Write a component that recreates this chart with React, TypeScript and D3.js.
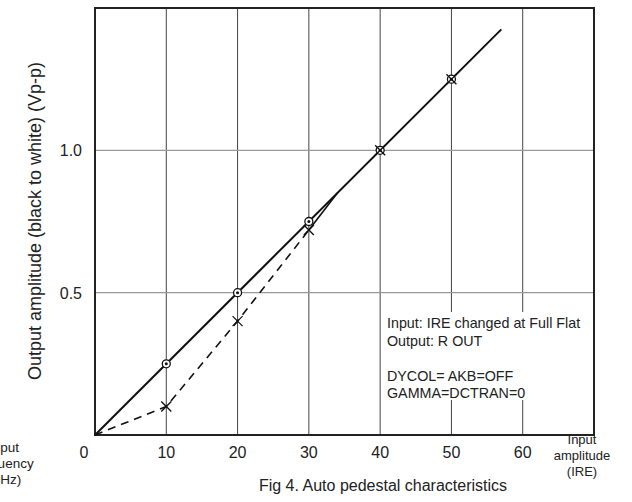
import React from "react";
import * as d3 from "d3";

const xTicks = [0, 10, 20, 30, 40, 50, 60];
const yTicks = [0.5, 1.0];
const yTickLabels = ["0.5", "1.0"];

const idealX = [0, 57];
const idealY = [0, 1.425];

const circleX = [10, 20, 30, 40, 50];
const circleY = [0.25, 0.5, 0.75, 1.0, 1.25];

const measuredX = [0, 10, 20, 30];
const measuredY = [0, 0.1, 0.4, 0.72];
const joinX = [30, 34];
const joinY = [0.72, 0.85];

const crossX = [10, 20, 30, 40, 50];
const crossY = [0.1, 0.4, 0.72, 1.0, 1.25];

const noteLines = [
  "Input: IRE changed at Full Flat",
  "Output: R OUT",
  "",
  "DYCOL= AKB=OFF",
  "GAMMA=DCTRAN=0",
];

export default function App() {
  const W = 632, H = 502;
  const x = d3.scaleLinear().domain([0, 70]).range([95, 594]);
  const y = d3.scaleLinear().domain([0, 1.5]).range([435, 8]);
  const line = d3.line<[number, number]>().x(d => x(d[0])).y(d => y(d[1]));
  const ideal = line(idealX.map((v, i) => [v, idealY[i]]) as [number, number][]);
  const meas = line(measuredX.map((v, i) => [v, measuredY[i]]) as [number, number][]);
  const join = line(joinX.map((v, i) => [v, joinY[i]]) as [number, number][]);
  const font = "Liberation Sans, Arial, Helvetica, sans-serif";
  const noteY = [323, 341, 358, 376, 393];
  return (
    <svg width={W} height={H} style={{ position: "absolute", left: 0, top: 0 }} fontFamily={font}>
      <rect x={0} y={0} width={W} height={H} fill="#fff" />
      {/* vertical grid */}
      {xTicks.filter(t => t > 0).map(t => (
        <line key={"vx" + t} x1={x(t)} x2={x(t)} y1={y(0)} y2={y(1.5)} stroke="#444" strokeWidth={1} />
      ))}
      {yTicks.map(t => (
        <line key={"hy" + t} x1={x(0)} x2={x(70)} y1={y(t)} y2={y(t)} stroke="#999" strokeWidth={1.2} />
      ))}
      {/* note box background */}
      <rect x={385} y={312} width={207} height={88} fill="#fff" />
      {noteLines.map((s, i) => (
        <text key={"n" + i} x={387} y={noteY[i] + 5} fontSize={14.3} fill="#222">{s}</text>
      ))}
      {/* frame */}
      <rect x={x(0)} y={y(1.5)} width={x(70) - x(0)} height={y(0) - y(1.5)} fill="none" stroke="#222" strokeWidth={2} />
      {/* lines */}
      <path d={ideal || ""} fill="none" stroke="#111" strokeWidth={2} />
      <path d={meas || ""} fill="none" stroke="#111" strokeWidth={1.6} strokeDasharray="8,6" />
      <path d={join || ""} fill="none" stroke="#111" strokeWidth={1.6} />
      {/* circle markers */}
      {circleX.map((v, i) => (
        <g key={"c" + i}>
          <circle cx={x(v)} cy={y(circleY[i])} r={4} fill="#fff" stroke="#111" strokeWidth={1.3} />
          <circle cx={x(v)} cy={y(circleY[i])} r={1.5} fill="#111" />
        </g>
      ))}
      {/* cross markers */}
      {crossX.map((v, i) => {
        const cx = x(v), cy = y(crossY[i]), s = 5;
        return (
          <g key={"x" + i} stroke="#111" strokeWidth={1.3}>
            <line x1={cx - s} y1={cy - s} x2={cx + s} y2={cy + s} />
            <line x1={cx - s} y1={cy + s} x2={cx + s} y2={cy - s} />
          </g>
        );
      })}
      {/* x tick labels */}
      {xTicks.map(t => (
        <text key={"tx" + t} x={t === 0 ? x(t) - 11 : x(t)} y={458} fontSize={16} textAnchor="middle" fill="#222">{t}</text>
      ))}
      {yTicks.map((t, i) => (
        <text key={"ty" + t} x={82} y={y(t) + 6} fontSize={16} textAnchor="end" fill="#222">{yTickLabels[i]}</text>
      ))}
      {/* axis titles */}
      <text transform={`translate(41,${221}) rotate(-90)`} fontSize={18} textAnchor="middle" fill="#222">
        Output amplitude (black to white) (Vp-p)
      </text>
      <text fontSize={13} textAnchor="middle" fill="#222">
        <tspan x={582} y={444}>Input</tspan>
        <tspan x={582} y={460}>amplitude</tspan>
        <tspan x={582} y={476}>(IRE)</tspan>
      </text>
      <text fontSize={13.5} textAnchor="middle" fill="#222">
        <tspan x={4} y={452}>Input</tspan>
        <tspan x={4} y={468}>frequency</tspan>
        <tspan x={3} y={484}>(MHz)</tspan>
      </text>
      <text x={383} y={491} fontSize={16} textAnchor="middle" fill="#222">Fig 4. Auto pedestal characteristics</text>
    </svg>
  );
}
